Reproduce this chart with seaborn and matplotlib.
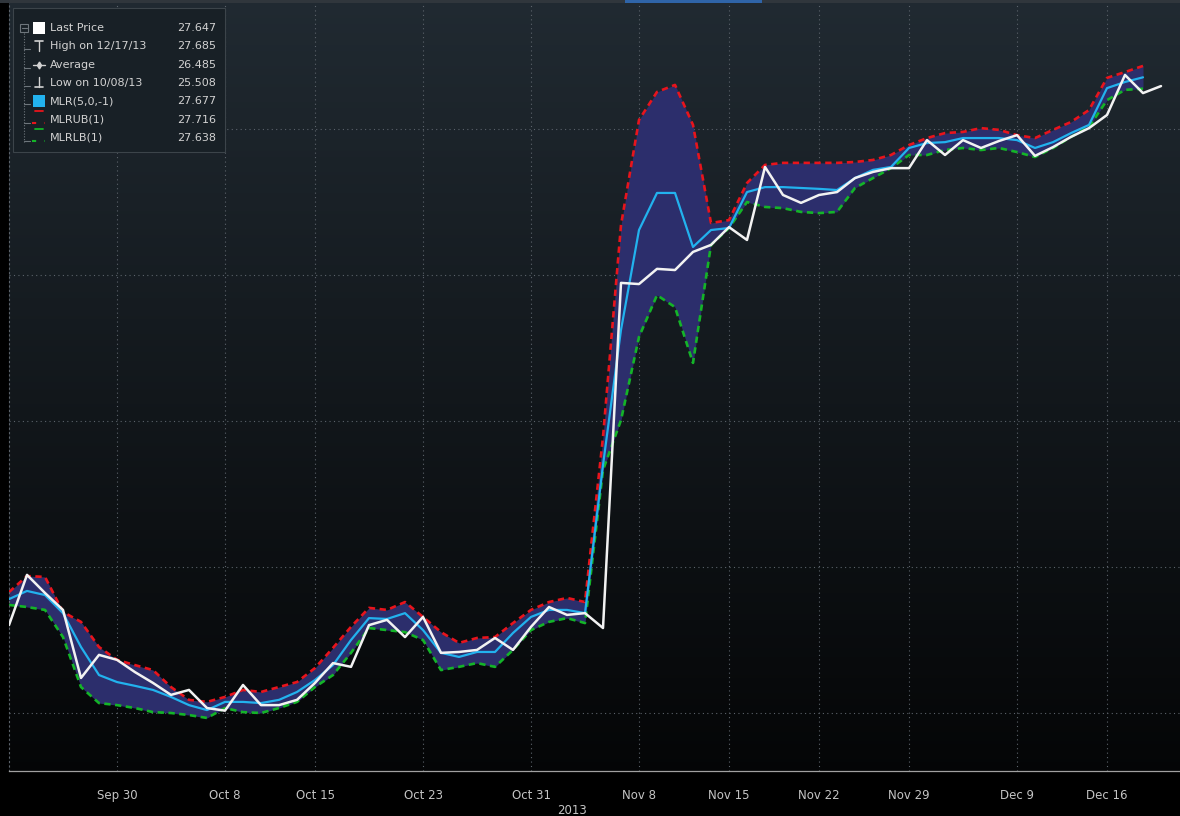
import numpy as np
import pandas as pd
import matplotlib
matplotlib.use('Agg')
import matplotlib.pyplot as plt
from matplotlib.patches import Rectangle
from matplotlib.lines import Line2D
import seaborn as sns

# ---- data (weekdays Sep 20 .. Dec 19, 2013) ----
dates = pd.bdate_range('2013-09-20', '2013-12-19')

last_price = [25.801, 25.973, 25.911, 25.853, 25.620, 25.699,
              25.682, 25.640, 25.603, 25.562, 25.579,
              25.517, 25.508, 25.596, 25.527, 25.527,
              25.545, 25.603, 25.671, 25.658, 25.801,
              25.819, 25.760, 25.829, 25.706, 25.709,
              25.716, 25.757, 25.716, 25.795, 25.863,
              25.836, 25.842, 25.791, 26.973, 26.969,
              27.021, 27.017, 27.079, 27.103, 27.164,
              27.120, 27.370, 27.274, 27.247, 27.274,
              27.284, 27.332, 27.353, 27.366, 27.366,
              27.462, 27.411, 27.462, 27.435, 27.459,
              27.479, 27.408, 27.438, 27.473, 27.503,
              27.548, 27.685, 27.623, 27.647]

mlr = [25.890, 25.918, 25.904, 25.842, 25.726, 25.630,
       25.606, 25.593, 25.579, 25.555, 25.527,
       25.510, 25.538, 25.538, 25.534, 25.545,
       25.572, 25.613, 25.664, 25.750, 25.825,
       25.822, 25.842, 25.784, 25.706, 25.692,
       25.709, 25.709, 25.774, 25.829, 25.853,
       25.853, 25.842, 26.349, 26.812, 27.154,
       27.281, 27.281, 27.096, 27.154, 27.161,
       27.284, 27.301, 27.301, 27.298, 27.295,
       27.291, 27.332, 27.360, 27.370, 27.435,
       27.452, 27.455, 27.469, 27.469, 27.469,
       27.462, 27.435, 27.455, 27.486, 27.514,
       27.640, 27.661, 27.677, np.nan]

mlr_ub = [25.914, 25.969, 25.966, 25.846, 25.812, 25.726,
          25.682, 25.664, 25.647, 25.589, 25.545,
          25.538, 25.555, 25.579, 25.572, 25.589,
          25.606, 25.654, 25.723, 25.795, 25.860,
          25.853, 25.880, 25.829, 25.777, 25.740,
          25.757, 25.760, 25.808, 25.853, 25.880,
          25.894, 25.880, 26.445, 27.171, 27.531,
          27.627, 27.651, 27.514, 27.178, 27.188,
          27.315, 27.377, 27.384, 27.384, 27.384,
          27.384, 27.387, 27.394, 27.411, 27.445,
          27.469, 27.486, 27.490, 27.503, 27.497,
          27.479, 27.469, 27.497, 27.524, 27.565,
          27.675, 27.695, 27.716, np.nan]

mlr_lb = [25.870, 25.863, 25.853, 25.760, 25.589, 25.534,
          25.527, 25.517, 25.503, 25.500, 25.493,
          25.483, 25.517, 25.503, 25.500, 25.517,
          25.538, 25.589, 25.630, 25.706, 25.791,
          25.784, 25.777, 25.750, 25.647, 25.658,
          25.671, 25.658, 25.716, 25.784, 25.812,
          25.825, 25.808, 26.332, 26.503, 26.788,
          26.931, 26.890, 26.699, 27.103, 27.161,
          27.250, 27.233, 27.229, 27.216, 27.212,
          27.216, 27.298, 27.332, 27.366, 27.411,
          27.411, 27.428, 27.435, 27.428, 27.435,
          27.421, 27.404, 27.435, 27.473, 27.507,
          27.599, 27.634, 27.638, np.nan]

tick_dates = ['2013-09-30', '2013-10-08', '2013-10-15', '2013-10-23', '2013-10-31',
              '2013-11-08', '2013-11-15', '2013-11-22', '2013-11-29', '2013-12-09',
              '2013-12-16']
tick_labels = ['Sep 30', 'Oct 8', 'Oct 15', 'Oct 23', 'Oct 31', 'Nov 8',
               'Nov 15', 'Nov 22', 'Nov 29', 'Dec 9', 'Dec 16']
y_grid = [25.5, 26.0, 26.5, 27.0, 27.5]

legend_names = ['Last Price', 'High on 12/17/13', 'Average', 'Low on 10/08/13',
                'MLR(5,0,-1)', 'MLRUB(1)', 'MLRLB(1)']
legend_values = ['27.647', '27.685', '26.485', '25.508', '27.677', '27.716', '27.638']

df = pd.DataFrame({'day': np.arange(len(dates)), 'last': last_price,
                   'mlr': mlr, 'ub': mlr_ub, 'lb': mlr_lb})

# ---- figure ----
sns.set_style('dark')
W, H = 1180, 816
fig = plt.figure(figsize=(W / 100, H / 100), dpi=100, facecolor='black')
ax = fig.add_axes([9 / W, 1 - 771 / H, 1 - 9 / W, 771 / H])

# background gradient (slate at top to black at bottom)
t = np.linspace(0, 1, 256)[:, None, None]
top = np.array([0.128, 0.165, 0.195])
bot = np.array([0.018, 0.022, 0.026])
grad = top * (1 - t) + bot * t
ax.imshow(grad, extent=(0, 1, 0, 1), transform=ax.transAxes, aspect='auto',
          origin='upper', zorder=0)

band_ok = df['ub'].notna()
ax.fill_between(df['day'][band_ok], df['lb'][band_ok], df['ub'][band_ok],
                color='#2c2e6c', lw=0, zorder=1)

sns.lineplot(data=df, x='day', y='ub', ax=ax, estimator=None, color='#e8141c',
             lw=1.9, dashes=(2.4, 1.7), zorder=2)
sns.lineplot(data=df, x='day', y='lb', ax=ax, estimator=None, color='#14b428',
             lw=1.9, dashes=(2.4, 1.7), zorder=2)
sns.lineplot(data=df, x='day', y='mlr', ax=ax, estimator=None, color='#22b2ee',
             lw=1.6, zorder=3)
sns.lineplot(data=df, x='day', y='last', ax=ax, estimator=None, color='#f2f2f2',
             lw=1.8, zorder=4)

ax.set_xlim(0, (W - 9) / 18)
ax.set_ylim(25.5 - 58 / 292, 27.5 + 129 / 292)
ax.set_xlabel('')
ax.set_ylabel('')

tick_pos = [dates.get_loc(pd.Timestamp(d)) for d in tick_dates]
ax.set_xticks(tick_pos)
ax.set_xticklabels(tick_labels)
ax.set_xticks(df['day'], minor=True)
ax.set_yticks(y_grid)
ax.tick_params(axis='y', length=0, labelleft=False)
ax.tick_params(axis='x', which='both', direction='inout', length=4, width=0.8,
               color='#a0a0a0', labelcolor='#c4c4c4', labelsize=8.5, pad=11)
ax.grid(True, which='major', color='#5c636b', lw=0.8, linestyle=(0, (1, 3)))
for gl in ax.get_xgridlines() + ax.get_ygridlines():
    gl.set_zorder(0.5)

for s in ['top', 'right']:
    ax.spines[s].set_visible(False)
ax.spines['bottom'].set_color('#a0a0a0')
ax.spines['bottom'].set_linewidth(0.9)
ax.spines['left'].set_color('#5c636b')
ax.spines['left'].set_linestyle((0, (1, 3)))
ax.spines['left'].set_linewidth(0.8)

fig.text(572 / W, 1 - 810 / H, '2013', color='#c4c4c4', fontsize=8.5,
         ha='center', va='center')

# ---- helpers for figure pixel positions ----
def fx(x):
    return x / W

def fy(y):
    return 1 - y / H

def fline(xs, ys, **kw):
    fig.add_artist(Line2D([fx(v) for v in xs], [fy(v) for v in ys],
                          transform=fig.transFigure, zorder=7, **kw))

# top tab strip
fig.patches.append(Rectangle((0, fy(3)), 1, 3 / H, transform=fig.transFigure,
                             facecolor='#30363c', edgecolor='none', zorder=5))
fig.patches.append(Rectangle((fx(625), fy(3)), 137 / W, 3 / H, transform=fig.transFigure,
                             facecolor='#2f64a8', edgecolor='none', zorder=6))

# ---- legend box ----
fig.patches.append(Rectangle((fx(13), fy(152)), 212 / W, 144 / H, transform=fig.transFigure,
                             facecolor='#182026', edgecolor='#3c444a', lw=0.8, zorder=5))
row_y = [28, 46, 65, 83, 101, 120, 138]
txt_col = '#d2d2d2'
tree_col = '#6e767c'
for name, val, y in zip(legend_names, legend_values, row_y):
    fig.text(fx(50), fy(y), name, color=txt_col, fontsize=8, ha='left', va='center', zorder=7)
    fig.text(fx(216), fy(y), val, color=txt_col, fontsize=8, ha='right', va='center', zorder=7)

# tree connector
fline([24, 24], [33, 142], color=tree_col, lw=0.8, linestyle=(0, (1, 1.5)))
for y in row_y[1:]:
    fline([24, 30], [y + 3, y + 3], color=tree_col, lw=0.8)
fig.patches.append(Rectangle((fx(20), fy(32)), 8 / W, 8 / H, transform=fig.transFigure,
                             facecolor='none', edgecolor=tree_col, lw=0.8, zorder=7))
fline([21.5, 26.5], [28, 28], color=tree_col, lw=0.8)

# icons
fig.patches.append(Rectangle((fx(33), fy(34)), 12 / W, 12 / H, transform=fig.transFigure,
                             facecolor='#ffffff', edgecolor='none', zorder=7))
fline([39, 39], [41, 51], color=txt_col, lw=1.0)
fline([35, 43], [41, 41], color=txt_col, lw=1.2)
fline([33, 39, 45], [65, 65, 65], color=txt_col, lw=1.0, marker='d', markersize=3.5,
      markevery=[1], markerfacecolor=txt_col, markeredgecolor=txt_col)
fline([39, 39], [77, 87], color=txt_col, lw=1.0)
fline([35, 43], [87, 87], color=txt_col, lw=1.2)
fig.patches.append(Rectangle((fx(33), fy(107)), 12 / W, 12 / H, transform=fig.transFigure,
                             facecolor='#22b2ee', edgecolor='none', zorder=7))
fline([35, 43], [111, 111], color='#e8141c', lw=1.3)
fline([32, 45], [123, 123], color='#e8141c', lw=1.5, linestyle=(0, (2, 4)))
fline([35, 43], [129, 129], color='#14b428', lw=1.3)
fline([32, 45], [141, 141], color='#14b428', lw=1.5, linestyle=(0, (2, 4)))

fig.savefig('out.png', dpi=100, facecolor='black')
